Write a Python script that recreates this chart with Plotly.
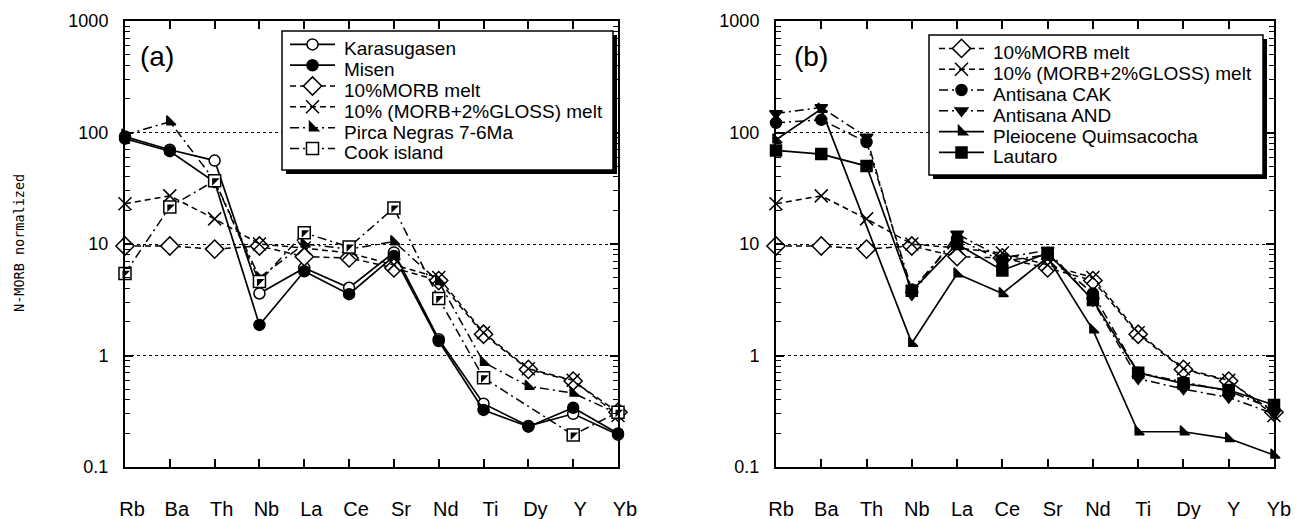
import plotly.graph_objects as go

# ---------------- data ----------------
elements = ["Rb", "Ba", "Th", "Nb", "La", "Ce", "Sr", "Nd", "Ti", "Dy", "Y", "Yb"]

karasugasen = [92, 70, 56, 3.6, 6.1, 4.05, 8.4, 1.4, 0.37, 0.233, 0.30, 0.195]
misen = [88, 68, 36, 1.88, 5.7, 3.55, 7.8, 1.35, 0.325, 0.23, 0.34, 0.20]
morb_melt = [9.6, 9.6, 9.0, 9.6, 7.7, 7.5, 6.1, 4.7, 1.55, 0.75, 0.59, 0.31]
gloss_melt = [23, 27, 16.8, 10.0, 9.2, 8.3, 6.5, 5.0, 1.6, 0.76, 0.60, 0.29]
pirca = [95, 125, 37, 5.0, 10, 9.0, 10.5, 4.6, 0.87, 0.53, 0.46, 0.30]
cook = [5.45, 21.5, 37, 4.6, 12.6, 9.4, 21, 3.25, 0.63, None, 0.194, 0.31]

antisana_cak = [122, 130, 82, 3.9, 11.2, 7.0, 8.0, 3.6, 0.70, 0.58, 0.48, 0.33]
antisana_and = [148, 168, 91, 3.5, 12.3, 7.5, 8.8, 3.1, 0.62, 0.50, 0.42, 0.30]
quimsacocha = [86, 162, None, 1.29, 5.4, 3.6, 7.6, 1.7, 0.207, 0.207, 0.18, 0.128]
lautaro = [69, 64, 50, 3.8, 10, 5.8, 8.3, 3.15, 0.70, 0.56, 0.49, 0.36]

legend_a = ["Karasugasen", "Misen", "10%MORB melt", "10% (MORB+2%GLOSS) melt",
            "Pirca Negras 7-6Ma", "Cook island"]
legend_b = ["10%MORB melt", "10% (MORB+2%GLOSS) melt", "Antisana CAK", "Antisana AND",
            "Pleiocene Quimsacocha", "Lautaro"]

ytick_vals = [0.1, 1, 10, 100, 1000]
ytick_text = ["0.1", "1", "10", "100", "1000"]
yminor_vals = [m * d for d in (0.1, 1, 10, 100) for m in range(2, 10)]

# ---------------- layout helpers ----------------
# the page body has an 8px margin, so the figure is drawn 8px in from the window corner
OFF = 8
W, H = 1307 - OFF, 519 - OFF
def fx(p):
    return (p - OFF) / W
def fy(p):
    return 1 - (p - OFF) / H

FONT = "Liberation Sans, Arial, Helvetica, sans-serif"
DASH = "6px,4px"
DASHDOT = "9px,4px,2px,4px"

fig = go.Figure()

def add(y, xa, ya, legend, symbol, fill, dash, size=11, lw=1.5):
    fig.add_trace(go.Scatter(
        x=elements, y=y, name=" ", xaxis=xa, yaxis=ya, legend=legend,
        mode="lines+markers", connectgaps=True, cliponaxis=False,
        line=dict(color="black", width=lw, dash=dash),
        marker=dict(symbol=symbol, size=size, color=fill,
                    line=dict(color="black", width=1.5)),
    ))

def half_fill(y, xa, ya):
    fig.add_trace(go.Scatter(
        x=elements, y=y, xaxis=xa, yaxis=ya, mode="markers", showlegend=False,
        cliponaxis=False, hoverinfo="skip",
        marker=dict(symbol="triangle-nw", size=8.4, color="black", line=dict(width=0)),
    ))

# panel (a)
add(karasugasen, "x", "y", "legend", "circle", "white", "solid", lw=1.7)
add(misen, "x", "y", "legend", "circle", "black", "solid", lw=1.7)
add(morb_melt, "x", "y", "legend", "diamond", "white", DASH, size=14)
add(gloss_melt, "x", "y", "legend", "x-thin", "black", DASH, size=13)
add(pirca, "x", "y", "legend", "triangle-sw", "black", DASHDOT, size=10)
add(cook, "x", "y", "legend", "square", "white", DASHDOT, size=12)
half_fill(cook, "x", "y")

# panel (b)
add(morb_melt, "x2", "y2", "legend2", "diamond", "white", DASH, size=14)
add(gloss_melt, "x2", "y2", "legend2", "x-thin", "black", DASH, size=13)
add(antisana_cak, "x2", "y2", "legend2", "circle", "black", DASHDOT)
add(antisana_and, "x2", "y2", "legend2", "triangle-down", "black", DASHDOT)
add(quimsacocha, "x2", "y2", "legend2", "triangle-sw", "black", "solid", size=10, lw=1.7)
add(lautaro, "x2", "y2", "legend2", "square", "black", "solid", size=11, lw=1.7)

def xaxis(domain, anchor, shift):
    return dict(
        domain=domain, anchor=anchor, type="category", range=[0, 11],
        categoryorder="array", categoryarray=elements, automargin=False,
        showline=True, linewidth=2, linecolor="black", mirror="ticks",
        ticks="inside", ticklen=8, tickwidth=1.5, tickcolor="black",
        showgrid=False, zeroline=False,
        tickfont=dict(family=FONT, size=20, color="black"),
        ticklabelstandoff=23, ticklabelshift=shift,
    )

def yaxis(domain, anchor):
    return dict(
        domain=domain, anchor=anchor, type="log", range=[-1, 3], automargin=False,
        tickmode="array", tickvals=ytick_vals, ticktext=ytick_text,
        showline=True, linewidth=2, linecolor="black", mirror="ticks",
        ticks="inside", ticklen=8, tickwidth=1.5, tickcolor="black",
        showgrid=True, gridcolor="black", gridwidth=1, griddash="dot",
        zeroline=False,
        minor=dict(tickmode="array", tickvals=yminor_vals, ticks="inside",
                   ticklen=5, tickwidth=1.2, tickcolor="black", showgrid=False),
        tickfont=dict(family=FONT, size=18, color="black"),
        ticklabelstandoff=11,
    )

ydom = [fy(467), fy(21)]
legend_common = dict(
    bgcolor="rgba(0,0,0,0)", borderwidth=0, itemwidth=45,
    font=dict(family=FONT, size=13.7, color="black"),
    xanchor="left", yanchor="top", tracegroupgap=0, traceorder="normal",
    itemclick=False, itemdoubleclick=False,
)

shapes = []
def legend_box(x0, y0, x1, y1):
    shapes.append(dict(type="rect", xref="paper", yref="paper", layer="above",
                       x0=fx(x0 + 4), x1=fx(x1 + 4), y0=fy(y1 + 4), y1=fy(y0 + 4),
                       fillcolor="black", line=dict(width=0)))
    shapes.append(dict(type="rect", xref="paper", yref="paper", layer="above",
                       x0=fx(x0), x1=fx(x1), y0=fy(y1), y1=fy(y0),
                       fillcolor="white", line=dict(color="black", width=1.5)))

legend_box(282, 31, 613, 170)
legend_box(929, 35, 1263, 175)

annotations = [
    dict(text="(a)", xref="paper", yref="paper", x=fx(157), y=fy(57), showarrow=False,
         font=dict(family=FONT, size=28, color="black"), xanchor="center", yanchor="middle"),
    dict(text="(b)", xref="paper", yref="paper", x=fx(811), y=fy(57), showarrow=False,
         font=dict(family=FONT, size=28, color="black"), xanchor="center", yanchor="middle"),
    dict(text="N-MORB normalized", xref="paper", yref="paper", x=fx(19), y=fy(243),
         showarrow=False, textangle=-90, xanchor="center", yanchor="middle",
         font=dict(family="DejaVu Sans Mono, Liberation Mono, monospace", size=13.5, color="black")),
]
for i, t in enumerate(legend_a):
    annotations.append(dict(text=t, xref="paper", yref="paper", x=fx(342), y=fy(49 + 20.8 * i),
                            showarrow=False, xanchor="left", yanchor="middle",
                            font=dict(family=FONT, size=19, color="black")))
for i, t in enumerate(legend_b):
    annotations.append(dict(text=t, xref="paper", yref="paper", x=fx(991), y=fy(53 + 20.8 * i),
                            showarrow=False, xanchor="left", yanchor="middle",
                            font=dict(family=FONT, size=19, color="black")))

fig.update_layout(
    width=W, height=H, margin=dict(l=0, r=0, t=0, b=0, autoexpand=False),
    paper_bgcolor="white", plot_bgcolor="white",
    showlegend=True,
    xaxis=xaxis([fx(125), fx(618)], "y", 7),
    yaxis=yaxis(ydom, "x"),
    xaxis2=xaxis([fx(776), fx(1274)], "y2", 5),
    yaxis2=yaxis(ydom, "x2"),
    legend=dict(legend_common, x=fx(285), y=fy(29)),
    legend2=dict(legend_common, x=fx(934), y=fy(33)),
    shapes=shapes, annotations=annotations,
    font=dict(family=FONT, color="black"),
)

fig.write_html("out.html")
